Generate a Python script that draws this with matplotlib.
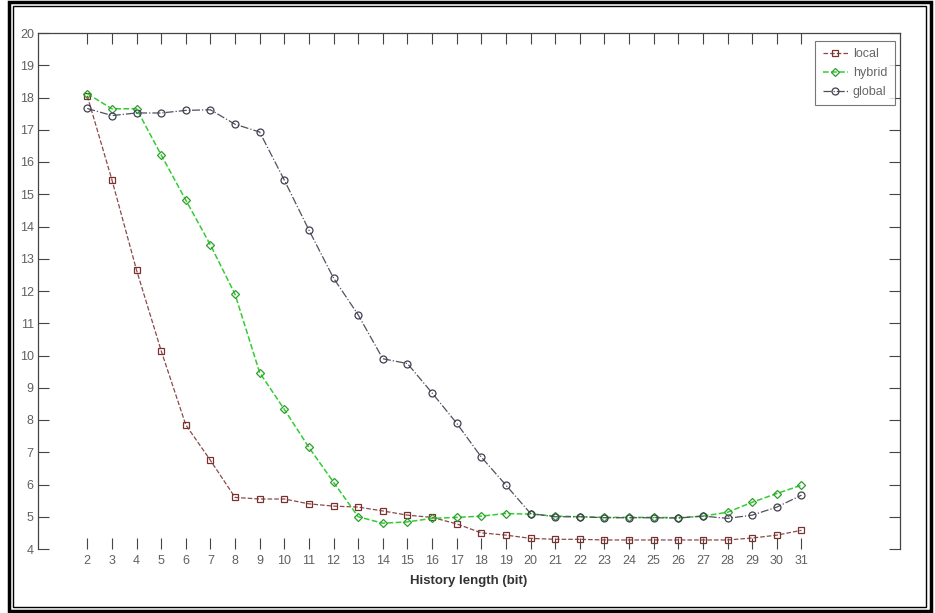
import matplotlib
matplotlib.use("Agg")
import matplotlib.pyplot as plt
from matplotlib.patches import Rectangle

# history length in bits
hist_len = list(range(2, 32))

local = [18.05, 15.45, 12.65, 10.15, 7.85, 6.75, 5.6, 5.55, 5.55, 5.4,
         5.33, 5.3, 5.18, 5.05, 4.98, 4.78, 4.5, 4.43, 4.33, 4.3,
         4.3, 4.28, 4.28, 4.28, 4.28, 4.28, 4.28, 4.34, 4.43, 4.58]
hybrid = [18.12, 17.65, 17.65, 16.22, 14.82, 13.43, 11.9, 9.47, 8.33, 7.15,
          6.07, 5.0, 4.8, 4.84, 4.95, 4.98, 5.02, 5.1, 5.08, 5.02,
          5.0, 4.98, 4.98, 4.98, 4.97, 5.02, 5.14, 5.45, 5.72, 5.98]
glob = [17.66, 17.44, 17.52, 17.52, 17.6, 17.62, 17.17, 16.93, 15.44, 13.89,
        12.4, 11.26, 9.9, 9.75, 8.84, 7.9, 6.85, 5.98, 5.1, 5.0,
        5.0, 4.97, 4.97, 4.97, 4.96, 5.02, 4.95, 5.05, 5.3, 5.67]

ylim = (4, 20)
xlim = (0, 35)

plt.rcParams['font.family'] = ['Liberation Sans', 'DejaVu Sans']

W, H = 935, 613
fig = plt.figure(figsize=(W / 100, H / 100), dpi=100)
ax = fig.add_axes([38 / W, 1 - 549 / H, (900 - 38) / W, (549 - 33) / H])

ax.plot(hist_len, local, ls='--', lw=0.9, color='#8a4a4a', marker='s', ms=5,
        mfc='none', mec='#7a3030', mew=0.9, label='local')
ax.plot(hist_len, hybrid, ls='--', lw=1.1, color='#33cc33', marker='D', ms=4.5,
        mfc='none', mec='#2aa02a', mew=0.9, label='hybrid')
ax.plot(hist_len, glob, ls='-.', lw=0.9, color='#505060', marker='o', ms=5,
        mfc='none', mec='#404050', mew=0.9, label='global')

ax.set_xlim(*xlim)
ax.set_ylim(*ylim)
ax.set_xticks(hist_len)
ax.set_yticks(range(4, 21))
ax.tick_params(axis='both', direction='in', length=8, width=0.8, color='#444444',
               labelsize=9, labelcolor='#606060', top=True, right=True)
ax.tick_params(axis='x', pad=4)
ax.tick_params(axis='y', pad=3)
ax.spines['bottom'].set_visible(False)
for s in ('left', 'top', 'right'):
    ax.spines[s].set_color('#444444')
    ax.spines[s].set_linewidth(0.9)

ax.set_xlabel('History length (bit)', fontsize=9.5, fontweight='bold',
              color='#333333', labelpad=6)

leg = ax.legend(loc='upper right', bbox_to_anchor=(0.994, 0.985), fontsize=9,
                frameon=True, fancybox=False, handlelength=2.0, borderpad=0.6,
                labelspacing=0.55, handletextpad=0.4, borderaxespad=0.0)
leg.get_frame().set_edgecolor('#555555')
leg.get_frame().set_linewidth(0.8)
for t in leg.get_texts():
    t.set_color('#666666')

# double frame around the figure
fig.add_artist(Rectangle((8.5 / W, 1 - 610.5 / H), (931 - 8.5) / W, (610.5 - 1.5) / H,
                         transform=fig.transFigure, fill=False, lw=2.5, ec='black'))
fig.add_artist(Rectangle((12.5 / W, 1 - 606.5 / H), (926 - 12.5) / W, (606.5 - 6) / H,
                         transform=fig.transFigure, fill=False, lw=1.0, ec='black'))

fig.savefig('out.png', dpi=100)
